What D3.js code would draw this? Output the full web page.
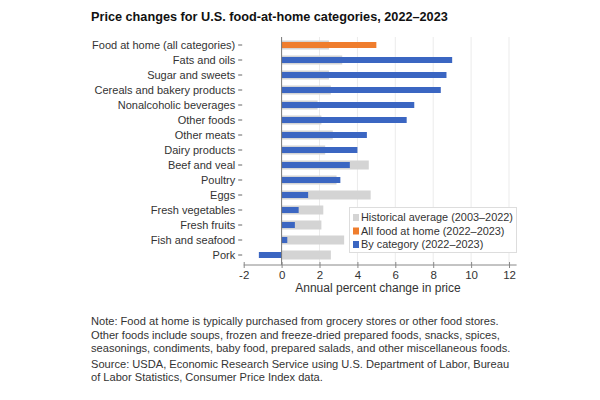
<!DOCTYPE html>
<html><head><meta charset="utf-8">
<script src="https://cdn.jsdelivr.net/npm/d3@7"></script>
<style>body{margin:0;background:#fff;} text{font-family:"Liberation Sans",Arial,sans-serif;}</style>
</head><body><svg id="c" width="600" height="400"></svg>
<script>
const categories = ["Food at home (all categories)","Fats and oils","Sugar and sweets","Cereals and bakery products","Nonalcoholic beverages","Other foods","Other meats","Dairy products","Beef and veal","Poultry","Eggs","Fresh vegetables","Fresh fruits","Fish and seafood","Pork"];
const historical = [2.5,3.2,2.5,2.6,1.9,2.1,2.7,2.3,4.6,2.9,4.7,2.2,2.1,3.3,2.6];
const current = [5.0,9.0,8.7,8.4,7.0,6.6,4.5,4.0,3.6,3.1,1.4,0.9,0.7,0.3,-1.2];
const xTicks = [-2,0,2,4,6,8,10,12];
const legendLabels = ["Historical average (2003–2022)","All food at home (2022–2023)","By category (2022–2023)"];

const svg = d3.select("#c");
const gray="#d4d4d4", orange="#ef7d2d", blue="#3b66c2";
const x = d3.scaleLinear().domain([-2,12.4]).range([243.7,516.6]);
const y = d3.scaleBand().domain(categories).range([37.5,262.5]).padding(0);

svg.append("text").attr("x",91).attr("y",21).attr("font-size",12.7).attr("font-weight","bold").attr("fill","#111")
  .text("Price changes for U.S. food-at-home categories, 2022–2023");

// gridlines
svg.append("g").selectAll("line").data(xTicks.filter(d=>d>0)).join("line")
  .attr("x1",d=>x(d)).attr("x2",d=>x(d)).attr("y1",37).attr("y2",265)
  .attr("stroke","#ebebeb").attr("stroke-width",1);

// historical bars
svg.append("g").selectAll("rect").data(categories).join("rect")
  .attr("x",(d,i)=>x(Math.min(0,historical[i]))).attr("width",(d,i)=>Math.abs(x(historical[i])-x(0)))
  .attr("y",d=>y(d)+y.bandwidth()/2-4.5).attr("height",9).attr("fill",gray);
// current bars
svg.append("g").selectAll("rect").data(categories).join("rect")
  .attr("x",(d,i)=>x(Math.min(0,current[i]))).attr("width",(d,i)=>Math.abs(x(current[i])-x(0)))
  .attr("y",d=>y(d)+y.bandwidth()/2-3).attr("height",6).attr("fill",(d,i)=>i===0?orange:blue);

// zero line
svg.append("line").attr("x1",x(0)).attr("x2",x(0)).attr("y1",37).attr("y2",265).attr("stroke","#777").attr("stroke-width",1);

// y axis
const ya = svg.append("g").attr("transform",`translate(${x(-2)-0.5},0)`)
  .call(d3.axisLeft(y).tickSize(4).tickPadding(4));
ya.select(".domain").remove();
ya.selectAll("line").attr("stroke","#666").attr("transform","translate(-1,0)");
ya.selectAll("text").attr("font-size",11).attr("fill","#333").attr("font-family","Liberation Sans, Arial, sans-serif");

// x axis
const xa = svg.append("g").attr("transform","translate(0,265)")
  .call(d3.axisBottom(x).tickValues(xTicks).tickSize(3).tickPadding(3).tickFormat(d=>String(d)));
xa.select(".domain").attr("stroke","#888").attr("d",`M${x(-2)},0H${x(12.4)}`);
xa.selectAll("line").attr("stroke","#888").attr("y1",-3);
xa.selectAll("text").attr("font-size",11.5).attr("fill","#333").attr("font-family","Liberation Sans, Arial, sans-serif");

svg.append("text").attr("x",378).attr("y",292).attr("text-anchor","middle").attr("font-size",12).attr("fill","#333")
  .text("Annual percent change in price");

// legend
const lg = svg.append("g");
lg.append("rect").attr("x",349.5).attr("y",207.5).attr("width",167).attr("height",45).attr("fill","#fff").attr("stroke","#ddd");
[gray,orange,blue].forEach((c,i)=>{
  lg.append("rect").attr("x",353).attr("y",214+i*13.5).attr("width",6).attr("height",7).attr("fill",c);
  lg.append("text").attr("x",361).attr("y",221+i*13.5).attr("font-size",10.9).attr("fill","#333").text(legendLabels[i]);
});

// notes
const notes = ["Note: Food at home is typically purchased from grocery stores or other food stores.",
"Other foods include soups, frozen and freeze-dried prepared foods, snacks, spices,",
"seasonings, condiments, baby food, prepared salads, and other miscellaneous foods.",
"Source: USDA, Economic Research Service using U.S. Department of Labor, Bureau",
"of Labor Statistics, Consumer Price Index data."];
const ny=[325,338.5,352,367.5,381];
notes.forEach((t,i)=>svg.append("text").attr("x",91).attr("y",ny[i]).attr("font-size",11.1).attr("fill","#333").text(t));
</script></body></html>
